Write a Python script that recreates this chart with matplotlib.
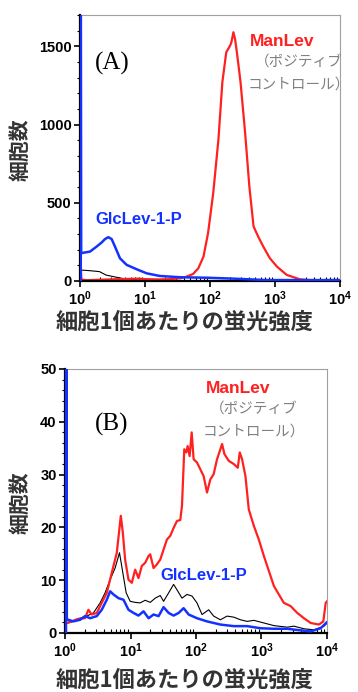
import numpy as np
import matplotlib
matplotlib.use("Agg")
import matplotlib.pyplot as plt
from matplotlib.ticker import FixedLocator, FixedFormatter, MultipleLocator, LogLocator, NullFormatter

plt.rcParams['font.family'] = ['Liberation Sans', 'Noto Sans CJK JP']
plt.rcParams['mathtext.fontset'] = 'custom'
plt.rcParams['mathtext.rm'] = 'Liberation Sans:bold'
plt.rcParams['mathtext.bf'] = 'Liberation Sans:bold'

JP = ['Noto Sans CJK JP', 'DejaVu Sans']
RED = '#ff2020'
BLUE = '#1432ff'
GRAY = '#808080'

# ---- データ (A) : x は log10(蛍光強度) ----
a_glc_logx = [0.012, 0.012, 0.018, 0.154, 0.256, 0.333, 0.385, 0.436, 0.487, 0.538, 0.615,
              0.718, 0.872, 1.026, 1.23, 1.54, 1.95, 2.36, 2.87, 4.0]
a_glc_cnt = [0, 2000, 178, 188, 220, 246, 268, 280, 268, 220, 145,
             103, 75, 49, 32, 24, 21, 15, 6, 6]

a_man_logx = [0.0, 0.005, 0.02, 0.1, 0.3, 0.6, 0.9, 1.0, 1.2, 1.4, 1.55, 1.64, 1.74, 1.82,
              1.90, 1.97, 2.05, 2.13, 2.19, 2.25, 2.28, 2.31, 2.33, 2.36, 2.385, 2.42,
              2.47, 2.54, 2.605, 2.67, 2.74, 2.82, 2.92, 3.03, 3.18, 3.38, 3.64, 4.0]
a_man_cnt = [0, 180, 10, 5, 8, 12, 15, 12, 10, 12, 18, 28, 45, 81,
             156, 306, 563, 906, 1270, 1462, 1483, 1505, 1527, 1590, 1548, 1441,
             1270, 949, 606, 349, 285, 220, 146, 92, 39, 11, 2, 2]

a_neg_logx = [0.01, 0.15, 0.3, 0.4, 0.56, 0.72, 0.92, 1.2, 2.0, 4.0]
a_neg_cnt = [70, 66, 60, 38, 24, 11, 6, 3, 2, 1]

# ---- データ (B) ----
b_glc_logx = [0.015, 0.02, 0.028, 0.051, 0.128, 0.230, 0.306, 0.383, 0.485, 0.561, 0.638,
              0.689, 0.740, 0.816, 0.893, 0.969, 1.046, 1.122, 1.199, 1.276, 1.352,
              1.429, 1.505, 1.582, 1.658, 1.735, 1.811, 1.888, 2.015, 2.168, 2.372,
              2.577, 2.781, 2.985, 3.189, 3.393, 3.597, 3.750, 3.903, 3.995]
b_glc_cnt = [0, 60, 2.5, 2.5, 2.2, 2.5, 3.2, 2.8, 3.2, 4.4, 6.3,
             7.9, 7.3, 6.6, 6.3, 4.4, 3.8, 3.3, 4.1, 2.8, 3.5,
             3.2, 4.9, 3.8, 3.3, 3.8, 4.7, 3.5, 2.8, 2.2, 1.6,
             1.3, 1.3, 0.9, 0.8, 0.8, 0.5, 0.3, 0.9, 2.0]

b_man_logx = [0.026, 0.102, 0.204, 0.306, 0.357, 0.408, 0.485, 0.561, 0.638, 0.714, 0.791,
              0.832, 0.852, 0.883, 0.918, 0.969, 1.020, 1.071, 1.122, 1.173, 1.224,
              1.276, 1.301, 1.352, 1.403, 1.454, 1.505, 1.556, 1.607, 1.658, 1.709,
              1.760, 1.786, 1.821, 1.852, 1.872, 1.903, 1.934, 1.964, 2.015, 2.066,
              2.117, 2.168, 2.219, 2.270, 2.321, 2.372, 2.398, 2.434, 2.500, 2.577,
              2.638, 2.668, 2.704, 2.755, 2.806, 2.883, 2.959, 3.036, 3.087, 3.138,
              3.189, 3.265, 3.342, 3.444, 3.546, 3.648, 3.750, 3.878, 3.944, 3.980, 4.0]
b_man_cnt = [1.9, 2.2, 2.7, 2.8, 4.4, 3.5, 3.8, 5.7, 7.6, 11.4, 15.2,
             19.9, 22.2, 19.0, 13.9, 10.1, 9.5, 12.0, 10.4, 12.7, 13.3,
             14.6, 14.9, 12.3, 13.0, 13.9, 15.8, 17.7, 18.4, 19.9, 21.2,
             21.4, 24.1, 34.8, 34.2, 35.4, 33.5, 38.0, 32.9, 32.3, 31.0,
             29.7, 26.6, 29.1, 30.1, 32.9, 34.8, 35.8, 33.9, 32.6, 32.0,
             31.3, 34.2, 32.9, 29.7, 23.4, 20.3, 17.7, 14.6, 12.7, 10.8,
             8.9, 7.3, 5.7, 5.1, 3.8, 2.8, 1.9, 1.6, 2.2, 5.7, 6.0]

b_neg_logx = [0.051, 0.128, 0.230, 0.332, 0.434, 0.536, 0.612, 0.689, 0.765, 0.832, 0.883,
              0.934, 0.995, 1.071, 1.148, 1.224, 1.301, 1.378, 1.454, 1.505, 1.582,
              1.658, 1.709, 1.786, 1.862, 1.939, 2.015, 2.092, 2.194, 2.270, 2.372,
              2.474, 2.577, 2.679, 2.781, 2.883, 3.036, 3.189, 3.393, 3.495, 3.648,
              3.801, 3.954, 3.995]
b_neg_cnt = [1.9, 2.2, 2.8, 3.2, 3.8, 5.7, 7.6, 10.1, 12.3, 15.2, 11.4,
             7.6, 6.0, 5.8, 5.7, 6.2, 5.8, 6.6, 7.1, 6.0, 7.6,
             9.2, 8.2, 6.6, 7.3, 7.0, 5.7, 3.5, 4.4, 3.2, 2.5,
             3.2, 3.0, 2.5, 2.2, 2.4, 1.9, 1.4, 1.1, 1.3, 0.8,
             0.6, 1.3, 1.8]

x_ticks = [1, 10, 100, 1000, 10000]
x_tick_labels = [r'$\mathbf{10^{%d}}$' % i for i in range(5)]


def px(x, y):
    return x / 358, 1 - y / 692


fig = plt.figure(figsize=(3.58, 6.92), dpi=100)
ax_a = fig.add_axes([80 / 358, 411 / 692, 260 / 358, 266 / 692])
ax_b = fig.add_axes([65 / 358, 59 / 692, 262 / 358, 264 / 692])


def style_axes(ax, ymax, ymajor, yminor):
    ax.set_xscale('log')
    ax.set_xlim(1, 1e4)
    ax.set_ylim(0, ymax)
    ax.xaxis.set_major_locator(FixedLocator(x_ticks))
    ax.xaxis.set_major_formatter(FixedFormatter(x_tick_labels))
    ax.xaxis.set_minor_locator(LogLocator(base=10, subs=np.arange(2, 10)))
    ax.xaxis.set_minor_formatter(NullFormatter())
    ax.yaxis.set_major_locator(MultipleLocator(ymajor))
    ax.yaxis.set_minor_locator(MultipleLocator(yminor))
    for lbl in ax.get_yticklabels():
        lbl.set_fontweight('bold')
    ax.tick_params(axis='both', which='major', labelsize=10.5, length=4, width=1.2, pad=2)
    ax.tick_params(axis='x', which='minor', direction='in', length=3, width=0.8)
    ax.tick_params(axis='y', which='minor', direction='out', length=2, width=0.8)
    ax.spines['left'].set_linewidth(1.6)
    ax.spines['bottom'].set_linewidth(1.6)
    for s in ('top', 'right'):
        ax.spines[s].set_color('#a0a0a0')
        ax.spines[s].set_linewidth(0.8)


# (A)
ax_a.plot(10 ** np.array(a_neg_logx), a_neg_cnt, color='black', lw=0.8)
ax_a.plot(10 ** np.array(a_man_logx), a_man_cnt, color=RED, lw=1.6)
ax_a.plot(10 ** np.array(a_glc_logx), a_glc_cnt, color=BLUE, lw=1.8, zorder=3)
style_axes(ax_a, 1700, 500, 100)

# (B)
ax_b.plot(10 ** np.array(b_neg_logx), b_neg_cnt, color='black', lw=0.8)
ax_b.plot(10 ** np.array(b_man_logx), b_man_cnt, color=RED, lw=1.6)
ax_b.plot(10 ** np.array(b_glc_logx), b_glc_cnt, color=BLUE, lw=1.8, zorder=3)
style_axes(ax_b, 50, 10, 2)

# テキスト
for (lx, ly, label) in [(95, 63, '(A)'), (95, 424, '(B)')]:
    fig.text(*px(lx, ly), label, family='Liberation Serif', fontsize=18, ha='left', va='center')

for (cy, cx) in [(150, 20), (503, 20)]:
    fig.text(*px(cx, cy), '細胞数', family=JP, fontweight='bold', fontsize=15,
             rotation=90, ha='center', va='center', color='#333333')

for (cx, cy) in [(185, 322), (185, 680)]:
    fig.text(*px(cx, cy), '細胞1個あたりの蛍光強度', family=JP, fontweight='bold',
             fontsize=16, ha='center', va='center', color='#333333')

fig.text(*px(282, 41), 'ManLev', color=RED, fontweight='bold', fontsize=12.5, ha='center', va='center')
fig.text(*px(255, 62), '（ポジティブ', color=GRAY, family=JP, fontsize=10.5, ha='left', va='center')
fig.text(*px(248, 85), 'コントロール）', color=GRAY, family=JP, fontsize=10.5, ha='left', va='center')
fig.text(*px(95, 220), 'GlcLev-1-P', color=BLUE, fontweight='bold', fontsize=12, ha='left', va='center')

fig.text(*px(238, 389), 'ManLev', color=RED, fontweight='bold', fontsize=12.5, ha='center', va='center')
fig.text(*px(210, 409), '（ポジティブ', color=GRAY, family=JP, fontsize=10.5, ha='left', va='center')
fig.text(*px(203, 432), 'コントロール）', color=GRAY, family=JP, fontsize=10.5, ha='left', va='center')
fig.text(*px(160, 576), 'GlcLev-1-P', color=BLUE, fontweight='bold', fontsize=12, ha='left', va='center')

fig.savefig('out.png', dpi=100)
